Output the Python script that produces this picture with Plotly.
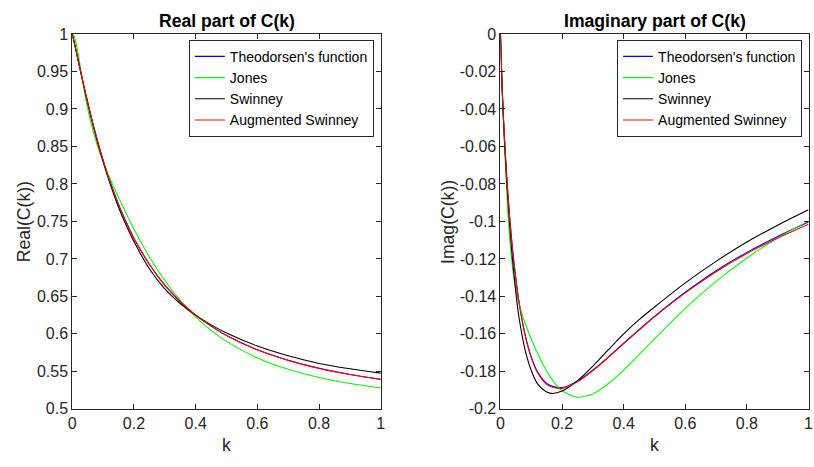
import plotly.graph_objects as go
from plotly.subplots import make_subplots

# ---------------- data ----------------
k = [0, 0.005, 0.01, 0.02, 0.03, 0.04, 0.05, 0.06, 0.08, 0.1, 0.12, 0.15, 0.17,
     0.2, 0.25, 0.3, 0.35, 0.4, 0.45, 0.5, 0.6, 0.7, 0.8, 0.9, 1.0]

real_theodorsen = [1, 0.9915, 0.9824, 0.9637, 0.9450, 0.9267, 0.9090, 0.8920, 0.8604,
                   0.8319, 0.8063, 0.7728, 0.7535, 0.7276, 0.6929, 0.6650, 0.6431,
                   0.6250, 0.6104, 0.5979, 0.5788, 0.5648, 0.5541, 0.5459, 0.5394]
real_jones = [1, 0.9979, 0.9920, 0.9718, 0.9467, 0.9222, 0.9007, 0.8824, 0.8531,
              0.8298, 0.8095, 0.7819, 0.7646, 0.7400, 0.7030, 0.6712, 0.6446,
              0.6227, 0.6047, 0.5900, 0.5679, 0.5527, 0.5418, 0.5339, 0.5280]
real_swinney = [1, 0.9915, 0.9822, 0.9633, 0.9444, 0.9258, 0.9078, 0.8905, 0.8585,
                0.8295, 0.8035, 0.7690, 0.7493, 0.7231, 0.6869, 0.6600, 0.6405,
                0.6248, 0.6120, 0.6012, 0.5838, 0.5708, 0.5606, 0.5535, 0.5476]
real_aug_swinney = [1, 0.9915, 0.9823, 0.9636, 0.9449, 0.9266, 0.9089, 0.8919, 0.8603,
                    0.8318, 0.8062, 0.7727, 0.7534, 0.7276, 0.6929, 0.6651, 0.6432,
                    0.6251, 0.6104, 0.5979, 0.5787, 0.5647, 0.5540, 0.5458, 0.5393]

imag_theodorsen = [0, -0.0266, -0.0457, -0.0752, -0.0979, -0.1160, -0.1306, -0.1426,
                   -0.1604, -0.1723, -0.1801, -0.1864, -0.1880, -0.1886, -0.1852,
                   -0.1793, -0.1724, -0.1650, -0.1578, -0.1507, -0.1378, -0.1263,
                   -0.1165, -0.1080, -0.1003]
imag_jones = [0, -0.0235, -0.0457, -0.0830, -0.1090, -0.1257, -0.1365, -0.1439,
              -0.1543, -0.1627, -0.1702, -0.1798, -0.1849, -0.1903, -0.1938,
              -0.1920, -0.1866, -0.1793, -0.1711, -0.1627, -0.1464, -0.1320,
              -0.1195, -0.1088, -0.0997]
imag_swinney = [0, -0.0270, -0.0470, -0.0780, -0.1020, -0.1220, -0.1380, -0.1510,
                -0.1685, -0.1795, -0.1865, -0.1910, -0.1918, -0.1905, -0.1850,
                -0.1772, -0.1685, -0.1600, -0.1524, -0.1457, -0.1328, -0.1213,
                -0.1110, -0.1020, -0.0938]
imag_aug_swinney = [0, -0.0266, -0.0458, -0.0754, -0.0982, -0.1163, -0.1309, -0.1429,
                    -0.1607, -0.1727, -0.1806, -0.1869, -0.1885, -0.1891, -0.1856,
                    -0.1796, -0.1726, -0.1652, -0.1580, -0.1509, -0.1381, -0.1268,
                    -0.1171, -0.1089, -0.1015]

series_names = ["Theodorsen's function", "Jones", "Swinney", "Augmented Swinney"]
series_colors = ["#0000ff", "#00ff00", "#000000", "#ff0000"]

x_tickvals = [0, 0.2, 0.4, 0.6, 0.8, 1]
x_ticktext = ["0", "0.2", "0.4", "0.6", "0.8", "1"]
real_tickvals = [0.5, 0.55, 0.6, 0.65, 0.7, 0.75, 0.8, 0.85, 0.9, 0.95, 1]
real_ticktext = ["0.5", "0.55", "0.6", "0.65", "0.7", "0.75", "0.8", "0.85", "0.9", "0.95", "1"]
imag_tickvals = [-0.2, -0.18, -0.16, -0.14, -0.12, -0.1, -0.08, -0.06, -0.04, -0.02, 0]
imag_ticktext = ["-0.2", "-0.18", "-0.16", "-0.14", "-0.12", "-0.1", "-0.08", "-0.06",
                 "-0.04", "-0.02", "0"]

# ---------------- figure ----------------
W, H = 814, 467
FONT = "Liberation Sans, Arial, Helvetica, sans-serif"
AX = "#262626"

fig = make_subplots(rows=1, cols=2)

real_sets = [real_theodorsen, real_jones, real_swinney, real_aug_swinney]
imag_sets = [imag_theodorsen, imag_jones, imag_swinney, imag_aug_swinney]

for name, col, ys in zip(series_names, series_colors, real_sets):
    fig.add_trace(go.Scatter(x=k, y=ys, mode="lines", name=name,
                             line=dict(color=col, width=1.1, shape="spline", smoothing=0.8),
                             legend="legend"), row=1, col=1)
for name, col, ys in zip(series_names, series_colors, imag_sets):
    fig.add_trace(go.Scatter(x=k, y=ys, mode="lines", name=name,
                             line=dict(color=col, width=1.1, shape="spline", smoothing=0.8),
                             legend="legend2"), row=1, col=2)

def px_x(p):
    return p / W

def px_y(p):
    return 1 - p / H

axis_common = dict(showline=True, linecolor=AX, linewidth=1, mirror="ticks",
                   ticks="inside", ticklen=5, tickcolor=AX, tickwidth=1,
                   showgrid=False, zeroline=False,
                   tickfont=dict(family=FONT, size=16, color=AX))

fig.update_xaxes(**axis_common, range=[0, 1], tickvals=x_tickvals, ticktext=x_ticktext)
fig.update_xaxes(domain=[px_x(69), px_x(381)], row=1, col=1)
fig.update_xaxes(domain=[px_x(502), px_x(813.5)], row=1, col=2)
fig.update_yaxes(**axis_common)
fig.update_yaxes(range=[0.5, 1], tickvals=real_tickvals, ticktext=real_ticktext,
                 domain=[px_y(416), px_y(27)], row=1, col=1)
fig.update_yaxes(range=[-0.2, 0], tickvals=imag_tickvals, ticktext=imag_ticktext,
                 domain=[px_y(416), px_y(27)], row=1, col=2)

legend_common = dict(bgcolor="white", bordercolor=AX, borderwidth=1,
                     font=dict(family=FONT, size=14, color="#000000"),
                     xanchor="right", yanchor="top", tracegroupgap=0)
fig.update_layout(
    width=W, height=H,
    margin=dict(l=0, r=0, t=0, b=0),
    paper_bgcolor="white", plot_bgcolor="white",
    legend=dict(**legend_common, x=px_x(374), y=px_y(33)),
    legend2=dict(**legend_common, x=px_x(807), y=px_y(33)),
)

ann_font = dict(family=FONT, size=17.6, color="#000000")
lab_font = dict(family=FONT, size=17.6, color=AX)
annotations = [
    dict(text="<b>Real part of C(k)</b>", x=px_x(225), y=px_y(14), font=ann_font),
    dict(text="<b>Imaginary part of C(k)</b>", x=px_x(658), y=px_y(14), font=ann_font),
    dict(text="k", x=px_x(225), y=px_y(454), font=lab_font),
    dict(text="k", x=px_x(658), y=px_y(454), font=lab_font),
    dict(text="Real(C(k))", x=px_x(20.5), y=px_y(222), textangle=-90, font=lab_font),
    dict(text="Imag(C(k))", x=px_x(449), y=px_y(222), textangle=-90, font=lab_font),
]
for a in annotations:
    fig.add_annotation(xref="paper", yref="paper", showarrow=False,
                       xanchor="center", yanchor="middle", **a)

fig.write_html("out.html")
